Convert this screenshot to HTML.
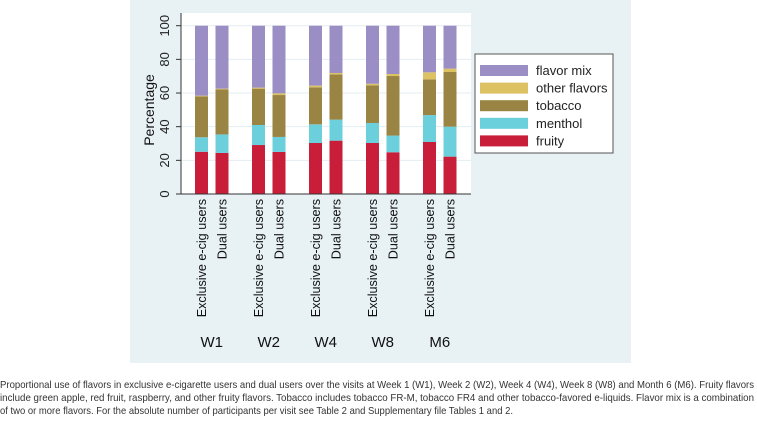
<!DOCTYPE html>
<html><head><meta charset="utf-8"><style>
body{margin:0;width:757px;height:418px;background:#fff;overflow:hidden;font-family:"Liberation Sans",sans-serif}
</style></head><body>
<svg id="c" width="757" height="418" xmlns="http://www.w3.org/2000/svg">
<rect x="130" y="0" width="501" height="363" fill="#e8f2f5"/>
<rect x="181" y="13" width="290" height="181" fill="#fff"/>
<g id="grid"></g><g id="bars"></g><g id="axes"></g>
<g>
<rect x="475" y="54" width="138" height="99" fill="#fff" stroke="#555" stroke-width="1"/>
<g id="leg"></g></g>
<g font-size="10.5" fill="#333">
<text x="0" y="388" textLength="754" lengthAdjust="spacingAndGlyphs">Proportional use of flavors in exclusive e-cigarette users and dual users over the visits at Week 1 (W1), Week 2 (W2), Week 4 (W4), Week 8 (W8) and Month 6 (M6). Fruity flavors</text>
<text x="0" y="401" textLength="754" lengthAdjust="spacingAndGlyphs">include green apple, red fruit, raspberry, and other fruity flavors. Tobacco includes tobacco FR-M, tobacco FR4 and other tobacco-favored e-liquids. Flavor mix is a combination</text>
<text x="0" y="414" textLength="513" lengthAdjust="spacingAndGlyphs">of two or more flavors. For the absolute number of participants per visit see Table 2 and Supplementary file Tables 1 and 2.</text>
</g>
</svg>
<script>
const groups=["W1","W2","W4","W8","M6"];
const userTypes=["Exclusive e-cig users","Dual users"];
const seriesNames=["fruity","menthol","tobacco","other flavors","flavor mix"];
const fruity=[25.1,24.4,29.1,25.0,30.3,31.7,30.3,24.8,30.9,22.2];
const menthol=[8.6,11.0,11.9,8.9,11.1,12.5,11.9,9.9,16.0,17.8];
const tobacco=[24.3,26.8,21.6,24.9,22.0,26.9,22.4,35.4,21.2,32.5];
const otherFlavors=[0.4,0.4,0.6,1.0,1.0,0.8,0.9,1.2,4.2,2.0];
const flavorMix=[41.6,37.4,36.8,40.2,35.6,28.1,34.5,28.7,27.7,25.5];
const yTicks=[0,20,40,60,80,100];
const colors=["#c81e3a","#6bcfdc","#9a8443","#dcc263","#9b8ec4"];
const NS="http://www.w3.org/2000/svg";
function mk(t,a,p){const e=document.createElementNS(NS,t);for(const k in a)e.setAttribute(k,a[k]);p.appendChild(e);return e;}
const y=v=>194-v*(194-25.7)/100;
const barX=i=>195+Math.floor(i/2)*57+(i%2)*20.5;
const bw=13;
const grid=document.getElementById('grid'),axes=document.getElementById('axes'),bars=document.getElementById('bars');
yTicks.forEach(t=>{
 if(t>0){const g=mk('line',{x1:181,x2:471,y1:y(t),y2:y(t),stroke:'#e3eef2','stroke-width':1},grid);
 
 }
 const tk=mk('line',{x1:176,x2:181,y1:y(t),y2:y(t),stroke:'#333'},axes);
 
 
 const tx=mk('text',{x:0,y:0,'font-size':13,fill:'#222','text-anchor':'middle',transform:`translate(169,${y(t)}) rotate(-90)`},axes);
 tx.textContent=t;
 
 
});
const series=[fruity,menthol,tobacco,otherFlavors,flavorMix];
for(let i=0;i<fruity.length;i++){
 let acc=0;
 series.forEach((s,k)=>{
  const r=mk('rect',{x:barX(i),y:y(acc+s[i]),width:bw,height:y(acc)-y(acc+s[i]),fill:colors[k]},bars);
  
  
  acc+=s[i];
 });
 const lb=mk('text',{x:0,y:0,'font-size':12.6,fill:'#111','text-anchor':'end',transform:`translate(${barX(i)+bw/2+4.5},199) rotate(-90)`},axes);
 lb.textContent=userTypes[i%2];
 
 
}
groups.forEach((g,j)=>{
 const t=mk('text',{x:(barX(2*j)+barX(2*j+1)+bw)/2,y:347,'font-size':15,fill:'#111','text-anchor':'middle'},axes);
 t.textContent=g;
 
 
});
const ax=mk('path',{d:'M181,13 V194 H471',fill:'none',stroke:'#333','stroke-width':1},axes);


const yt=mk('text',{x:0,y:0,'font-size':14,fill:'#111','text-anchor':'middle',transform:'translate(154,110) rotate(-90)'},axes);
yt.textContent='Percentage';


const leg=document.getElementById('leg');
[4,3,2,1,0].forEach((k,r)=>{
 const sw=mk('rect',{x:480,y:65+r*17.6,width:48,height:11,fill:colors[k]},leg);
 
 
 const t=mk('text',{x:536,y:75+r*17.6,'font-size':13,fill:'#222'},leg);
 t.textContent=seriesNames[k];
 
 
});
</script>
</body></html>
